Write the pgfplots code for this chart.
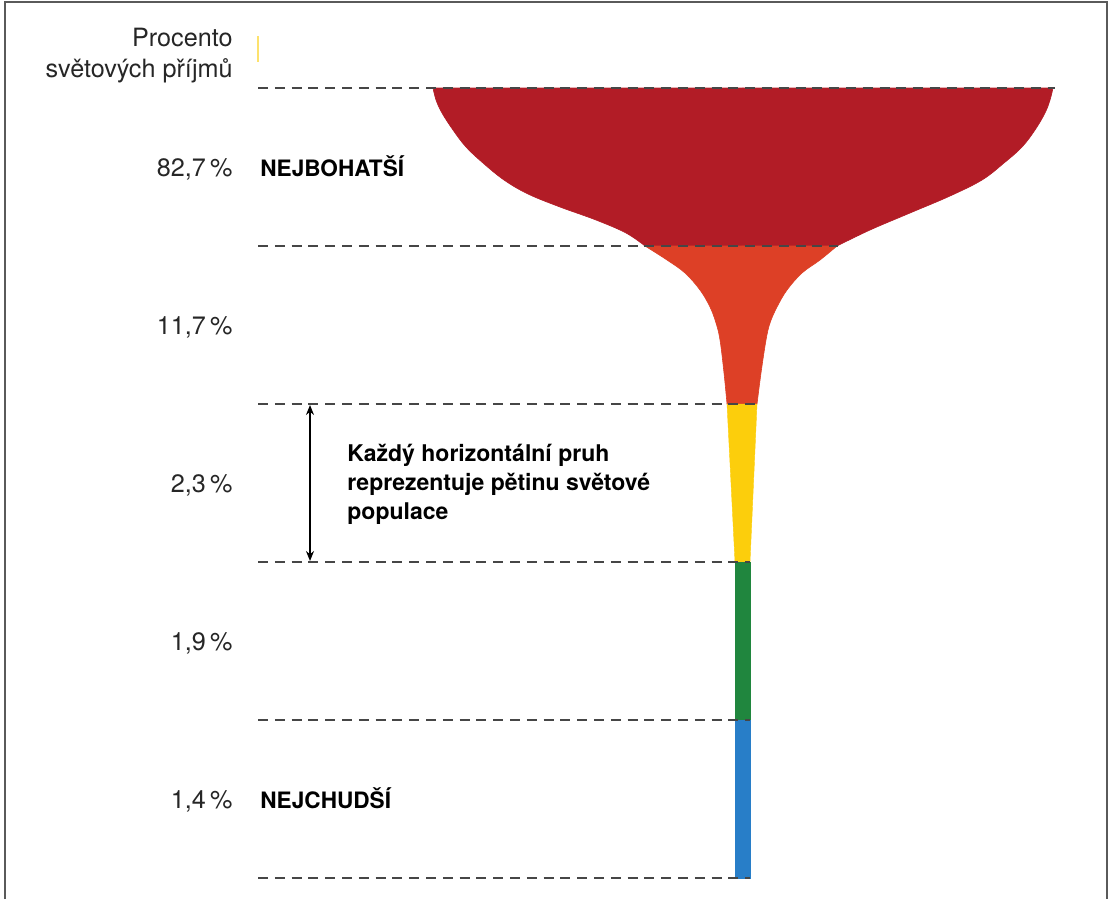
\documentclass[border=0pt]{standalone}
\usepackage{fontspec}
\setmainfont{TeX Gyre Heros}
\usepackage{pgfplots}
\pgfplotsset{compat=1.18}
\usetikzlibrary{arrows.meta}
\definecolor{cRed}{RGB}{178,28,38}
\definecolor{cOrange}{RGB}{221,64,38}
\definecolor{cYellow}{RGB}{252,206,12}
\definecolor{cGreen}{RGB}{32,134,62}
\definecolor{cBlue}{RGB}{40,126,200}
\definecolor{cDash}{RGB}{70,70,70}
\definecolor{cFrame}{RGB}{90,90,90}
\begin{document}
\begin{tikzpicture}
\begin{axis}[scale only axis, width=556pt, height=449.5pt,
  xmin=0, xmax=1112, ymin=0, ymax=899, y dir=reverse,
  hide axis, clip=false]
\path (axis cs:0,0) rectangle (axis cs:1112,899);
% frame
\draw[cFrame, line width=1pt] (axis cs:5,899) -- (axis cs:5,2) -- (axis cs:1107,2) -- (axis cs:1107,899);
% glass: richest fifth (left and right halves)
\addplot[fill=cRed, draw=cRed, line width=0.3pt, smooth, tension=0.6] coordinates {(433,88)(436,100)(442,113)(453,130)(466,147)(483,163)(504,180)(528,194)(560,207)(596,220)(626,233)(645,246)} -- (743,246) -- (743,88) -- cycle;
\addplot[fill=cRed, draw=cRed, line width=0.3pt, smooth, tension=0.6] coordinates {(1053,88)(1050,100)(1045,113)(1035,130)(1022,147)(1004,163)(982,180)(950,196)(910,213)(870,230)(837,246)} -- (743,246) -- (743,88) -- cycle;
% second fifth
\addplot[fill=cOrange, draw=cOrange, line width=0.3pt, smooth, tension=0.6] coordinates {(645,246)(667,260)(685,273)(700,290)(710,307)(716,323)(720,340)(724,373)(727,404)} -- (743,404) -- (743,246) -- cycle;
\addplot[fill=cOrange, draw=cOrange, line width=0.3pt, smooth, tension=0.6] coordinates {(837,246)(820,260)(802,273)(787,290)(777,307)(770,323)(766,340)(761,373)(757,404)} -- (743,404) -- (743,246) -- cycle;
% third fifth
\addplot[fill=cYellow, draw=cYellow, line width=0.2pt] coordinates {(727,404)(735,562)(750,562)(757,404)} -- cycle;
% fourth fifth
\addplot[fill=cGreen, draw=cGreen, line width=0.2pt] coordinates {(735,562)(735,720)(750,720)(750,562)} -- cycle;
% poorest fifth
\addplot[fill=cBlue, draw=cBlue, line width=0.2pt] coordinates {(735,720)(735,878)(750,878)(750,720)} -- cycle;
% band boundaries
\addplot[cDash, line width=1.1pt, dash pattern=on 5pt off 3.4pt] coordinates {(258,88)(1055,88)};
\addplot[cDash, line width=1.1pt, dash pattern=on 5pt off 3.4pt] coordinates {(258,246)(838,246)};
\addplot[cDash, line width=1.1pt, dash pattern=on 5pt off 3.4pt] coordinates {(258,404)(757,404)};
\addplot[cDash, line width=1.1pt, dash pattern=on 5pt off 3.4pt] coordinates {(258,562)(750,562)};
\addplot[cDash, line width=1.1pt, dash pattern=on 5pt off 3.4pt] coordinates {(258,720)(750,720)};
\addplot[cDash, line width=1.1pt, dash pattern=on 5pt off 3.4pt] coordinates {(258,878)(750,878)};
% faint mark
\addplot[draw=cYellow!60, line width=0.6pt] coordinates {(258,36)(258,62)};
% arrow
\draw[{Stealth[length=5pt,width=4pt]}-{Stealth[length=5pt,width=4pt]}, line width=0.7pt, black] (axis cs:310,405) -- (axis cs:310,561);
% texts
\def\numfont{\fontsize{12.6}{15}\selectfont}
\def\labfont{\fontsize{11.3}{14}\selectfont\bfseries}
\def\annfont{\fontsize{11.5}{14}\selectfont\bfseries}
\node[anchor=base east, inner sep=0pt, text=black!85] at (axis cs:233,46) {\numfont Procento};
\node[anchor=base east, inner sep=0pt, text=black!85] at (axis cs:233,77) {\numfont světových příjmů};
\node[anchor=base east, inner sep=0pt, text=black!85] at (axis cs:233,176) {\numfont 82,7\,\%};
\node[anchor=base east, inner sep=0pt, text=black!85] at (axis cs:233,334) {\numfont 11,7\,\%};
\node[anchor=base east, inner sep=0pt, text=black!85] at (axis cs:233,492) {\numfont 2,3\,\%};
\node[anchor=base east, inner sep=0pt, text=black!85] at (axis cs:233,650) {\numfont 1,9\,\%};
\node[anchor=base east, inner sep=0pt, text=black!85] at (axis cs:233,808) {\numfont 1,4\,\%};
\node[anchor=base west, inner sep=0pt] at (axis cs:260,176) {\labfont NEJBOHATŠÍ};
\node[anchor=base west, inner sep=0pt] at (axis cs:260,808) {\labfont NEJCHUDŠÍ};
\node[anchor=base west, inner sep=0pt] at (axis cs:347,461) {\annfont Každý horizontální pruh};
\node[anchor=base west, inner sep=0pt] at (axis cs:347,490) {\annfont reprezentuje pětinu světové};
\node[anchor=base west, inner sep=0pt] at (axis cs:347,519) {\annfont populace};
\end{axis}
\end{tikzpicture}
\end{document}
